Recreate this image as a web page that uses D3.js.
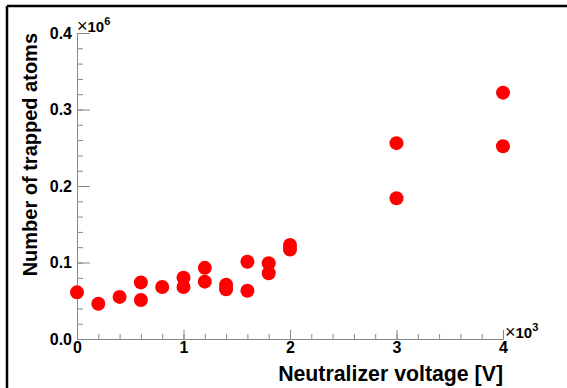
<!DOCTYPE html>
<html><head><meta charset="utf-8">
<script src="https://d3js.org/d3.v7.min.js"></script>
<style>
body{margin:0;background:#fff;}
svg{display:block;font-family:"Liberation Sans",Arial,Helvetica,sans-serif;}
</style></head>
<body>
<svg id="c" width="567" height="388"></svg>
<script>
// Data (x in units of 10^3 V, y in units of 10^6 atoms)
const voltage = [0, 0.2, 0.4, 0.6, 0.6, 0.8, 1.0, 1.0, 1.2, 1.2, 1.4, 1.4, 1.6, 1.6, 1.8, 1.8, 2.0, 2.0, 3.0, 3.0, 4.0, 4.0];
const atoms   = [0.061, 0.046, 0.055, 0.074, 0.051, 0.068, 0.080, 0.068, 0.093, 0.075, 0.071, 0.065, 0.101, 0.063, 0.099, 0.086, 0.123, 0.117, 0.256, 0.184, 0.322, 0.252];
const xTicks = [0, 1, 2, 3, 4];
const yTicks = [0.0, 0.1, 0.2, 0.3, 0.4];
const xTickLabels = ["0", "1", "2", "3", "4"];
const yTickLabels = ["0.0", "0.1", "0.2", "0.3", "0.4"];
const xTitle = "Neutralizer voltage [V]";
const yTitle = "Number of trapped atoms";

const svg = d3.select("#c");
const x = d3.scaleLinear().domain([0, 4]).range([77, 503]);
const y = d3.scaleLinear().domain([0, 0.4]).range([339, 33]);

// frame (top and left)
svg.append("line").attr("x1", 7).attr("x2", 567).attr("y1", 6).attr("y2", 6).attr("stroke", "#000").attr("stroke-width", 2.5);
svg.append("line").attr("x1", 7).attr("x2", 7).attr("y1", 6).attr("y2", 388).attr("stroke", "#000").attr("stroke-width", 2.5);

const axisColor = "#888";

// minor ticks
const xMinor = d3.range(0, 4.0001, 0.2).map(v => +v.toFixed(2));
const yMinor = d3.range(0, 0.4001, 0.02).map(v => +v.toFixed(3));
svg.append("g").attr("transform", `translate(0,${y(0)})`)
  .call(d3.axisBottom(x).tickValues(xMinor).tickSizeInner(-5).tickSizeOuter(0).tickFormat(""))
  .call(g => { g.selectAll("path,line").attr("stroke", axisColor); g.selectAll("text").remove(); });
svg.append("g").attr("transform", `translate(${x(0)},0)`)
  .call(d3.axisLeft(y).tickValues(yMinor).tickSizeInner(-6).tickSizeOuter(0).tickFormat(""))
  .call(g => { g.selectAll("path,line").attr("stroke", axisColor); g.selectAll("text").remove(); });

// major ticks
svg.append("g").attr("transform", `translate(0,${y(0)})`)
  .call(d3.axisBottom(x).tickValues(xTicks).tickSizeInner(-9).tickSizeOuter(0).tickPadding(3)
    .tickFormat((d, i) => xTickLabels[i]))
  .call(g => {
    g.selectAll("path,line").attr("stroke", axisColor);
    g.selectAll("text").attr("fill", "#000").attr("font-size", 16).attr("font-weight", "bold")
      .attr("font-family", '"Liberation Sans",Arial,sans-serif');
  });
svg.append("g").attr("transform", `translate(${x(0)},0)`)
  .call(d3.axisLeft(y).tickValues(yTicks).tickSizeInner(-13).tickSizeOuter(0).tickPadding(5)
    .tickFormat((d, i) => yTickLabels[i]))
  .call(g => {
    g.selectAll("path,line").attr("stroke", axisColor);
    g.selectAll("text").attr("fill", "#000").attr("font-size", 16).attr("font-weight", "bold")
      .attr("font-family", '"Liberation Sans",Arial,sans-serif');
  });

// exponent labels
const e6 = svg.append("text").attr("x", 77).attr("y", 32).attr("font-size", 15).attr("font-weight", "bold");
e6.append("tspan").attr("font-weight", "normal").attr("font-size", 18).text("×");
e6.append("tspan").text("10");
e6.append("tspan").attr("font-size", 11).attr("dy", -7).text("6");
const e3 = svg.append("text").attr("x", 505).attr("y", 338).attr("font-size", 15).attr("font-weight", "bold");
e3.append("tspan").attr("font-weight", "normal").attr("font-size", 18).text("×");
e3.append("tspan").text("10");
e3.append("tspan").attr("font-size", 11).attr("dy", -7).text("3");

// axis titles
svg.append("text").attr("x", 503).attr("y", 381).attr("text-anchor", "end")
  .attr("font-size", 21.3).attr("font-weight", "bold").text(xTitle);
svg.append("text").attr("transform", "translate(37,33) rotate(-90)").attr("text-anchor", "end")
  .attr("font-size", 20).attr("font-weight", "bold").text(yTitle);

// points
svg.append("g").selectAll("circle").data(voltage.map((v, i) => [v, atoms[i]]))
  .join("circle")
  .attr("cx", d => x(d[0])).attr("cy", d => y(d[1])).attr("r", 7)
  .attr("fill", "#ff0000");
</script>
</body></html>
